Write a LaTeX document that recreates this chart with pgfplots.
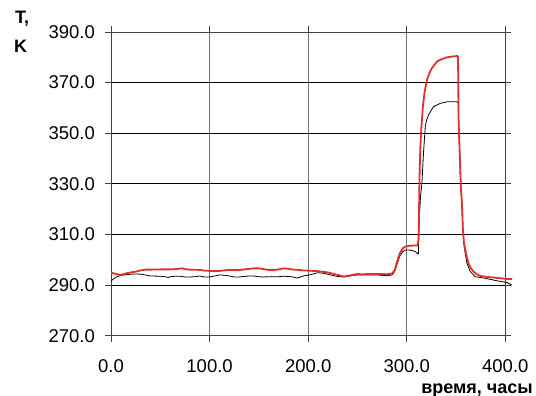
\documentclass[border=0pt]{standalone}
\usepackage{fontspec}
\setmainfont{Liberation Sans}
\usepackage{pgfplots}
\pgfplotsset{compat=1.18}
\definecolor{redline}{RGB}{224,48,48}
\begin{document}
\fontsize{18bp}{21bp}\selectfont
\begin{tikzpicture}
\useasboundingbox (0,0) rectangle (536bp,396bp);
\begin{axis}[
  at={(111bp,60.3bp)}, anchor=south west,
  scale only axis, width=394.3bp, height=303.7bp,
  xmin=0, xmax=400, ymin=270, ymax=390,
  xtick={0,100,200,300,400}, ytick={270,290,310,330,350,370,390},
  tick align=outside, major tick length=6bp,
  tick style={black!75, line width=0.8bp},
  xmajorgrids, ymajorgrids,
  x grid style={black!55, line width=0.8bp},
  y grid style={black, line width=0.8bp},
  axis line style={black!75, line width=0.8bp},
  clip=false,
  /pgf/number format/assume math mode=true,
  /pgf/number format/.cd, fixed, fixed zerofill, precision=1, 1000 sep={},
  /pgfplots/.cd,
  ticklabel style={font=\fontsize{18.5bp}{21bp}\selectfont},
  yticklabel style={xshift=-4bp},
  xticklabel style={yshift=-12bp},
]
\addplot[black, line width=0.8bp] coordinates {
(0,291.6) (3,292.6) (6,293.3) (10,293.8) (15,294.1) (20,294.3) (25,294.4) (30,294.3) (35,294.0) (40,293.6)
(50,293.5) (55,293.3) (58,293.0) (60,293.3) (65,293.5) (70,293.5) (75,293.2) (80,293.2) (85,293.3) (90,293.6)
(95,293.2) (100,293.2) (105,293.6) (110,294.0) (115,293.9) (120,293.6) (125,293.2) (130,293.2) (135,293.4)
(140,293.6) (145,293.6) (150,293.3) (155,293.2) (160,293.3) (170,293.3) (175,293.5) (180,293.4) (185,293.2)
(188,292.8) (191,293.0) (195,293.6) (200,293.9) (205,294.4) (210,294.9) (215,294.7) (220,294.3) (225,293.8)
(230,293.4) (236,293.2) (240,293.4) (245,293.8) (250,294.0) (260,294.0) (270,294.0) (280,293.7) (285,294.0)
(288,295.5) (290,298) (293,301.5) (296,303.2) (298.5,303.8) (302,303.9) (306,303.6) (309,303.2) (311,302.4)
(311.8,302.4) (312.2,310) (313,318) (314,325) (315.4,330.2) (317,342) (318.8,352.6) (320,355) (322.2,357.2)
(325,359.2) (327.2,360.5) (334,361.8) (340.8,362.4) (351,362.4) (352.3,362) (352.6,355) (353.5,345)
(354.3,335.5) (355,328) (356,322.3) (357,311.8) (358,306) (359.4,302.5) (361.1,298.6) (364.5,295.3)
(369.5,293.3) (378,292.8) (391.6,291.7) (401.7,291.0) (406.8,290.0)
};
\addplot[redline, line width=1.8bp] coordinates {
(0,294.9) (3,294.6) (7,294.2) (10,294.0) (15,294.6) (20,295.0) (25,295.3) (30,295.8) (35,296.1) (40,296.1)
(50,296.2) (60,296.2) (65,296.3) (70,296.5) (72,296.6) (75,296.3) (80,296.1) (90,296.0) (95,295.7)
(100,295.6) (105,295.5) (110,295.6) (115,295.8) (120,296.0) (125,295.9) (130,295.9) (135,296.2) (140,296.4)
(145,296.6) (150,296.6) (155,296.3) (160,296.0) (165,295.9) (170,296.2) (175,296.6) (180,296.4) (185,296.1)
(190,296.0) (195,295.8) (200,295.7) (205,295.6) (210,295.5) (220,295.0) (230,294.0) (236,293.4) (240,293.6)
(245,294.0) (250,294.4) (255,294.2) (260,294.4) (270,294.4) (280,294.3) (285,294.5) (288,296) (290,299)
(293,302.6) (296,304.5) (298.5,305.2) (302,305.5) (306,305.6) (311,305.7) (312,308) (312.5,320) (313,333)
(313.7,343.4) (314.8,352) (316.4,360.5) (318,366) (320.5,371) (323,373.8) (325.5,375.7) (330.6,378.3)
(335,379.2) (340.8,380) (346,380.3) (351,380.5) (352,380.3) (352.3,370) (352.6,355.3) (353.5,345)
(354.3,335.5) (355,328) (356,322.3) (357,311.8) (358,307) (359.4,303.9) (361,301) (362.7,298.6) (365,296.7)
(367.8,295.3) (371,294.3) (374.6,293.6) (380,293.3) (384.8,293.1) (395,292.7) (401.7,292.4) (406.8,292.4)
};
\end{axis}
\node[anchor=base west, inner sep=0pt] at (15bp,372bp) {\bfseries T,};
\node[anchor=base west, inner sep=0pt] at (14bp,343bp) {\bfseries K};
\node[anchor=base east, inner sep=0pt] at (533bp,2.5bp) {\bfseries время, часы};
\end{tikzpicture}
\end{document}
